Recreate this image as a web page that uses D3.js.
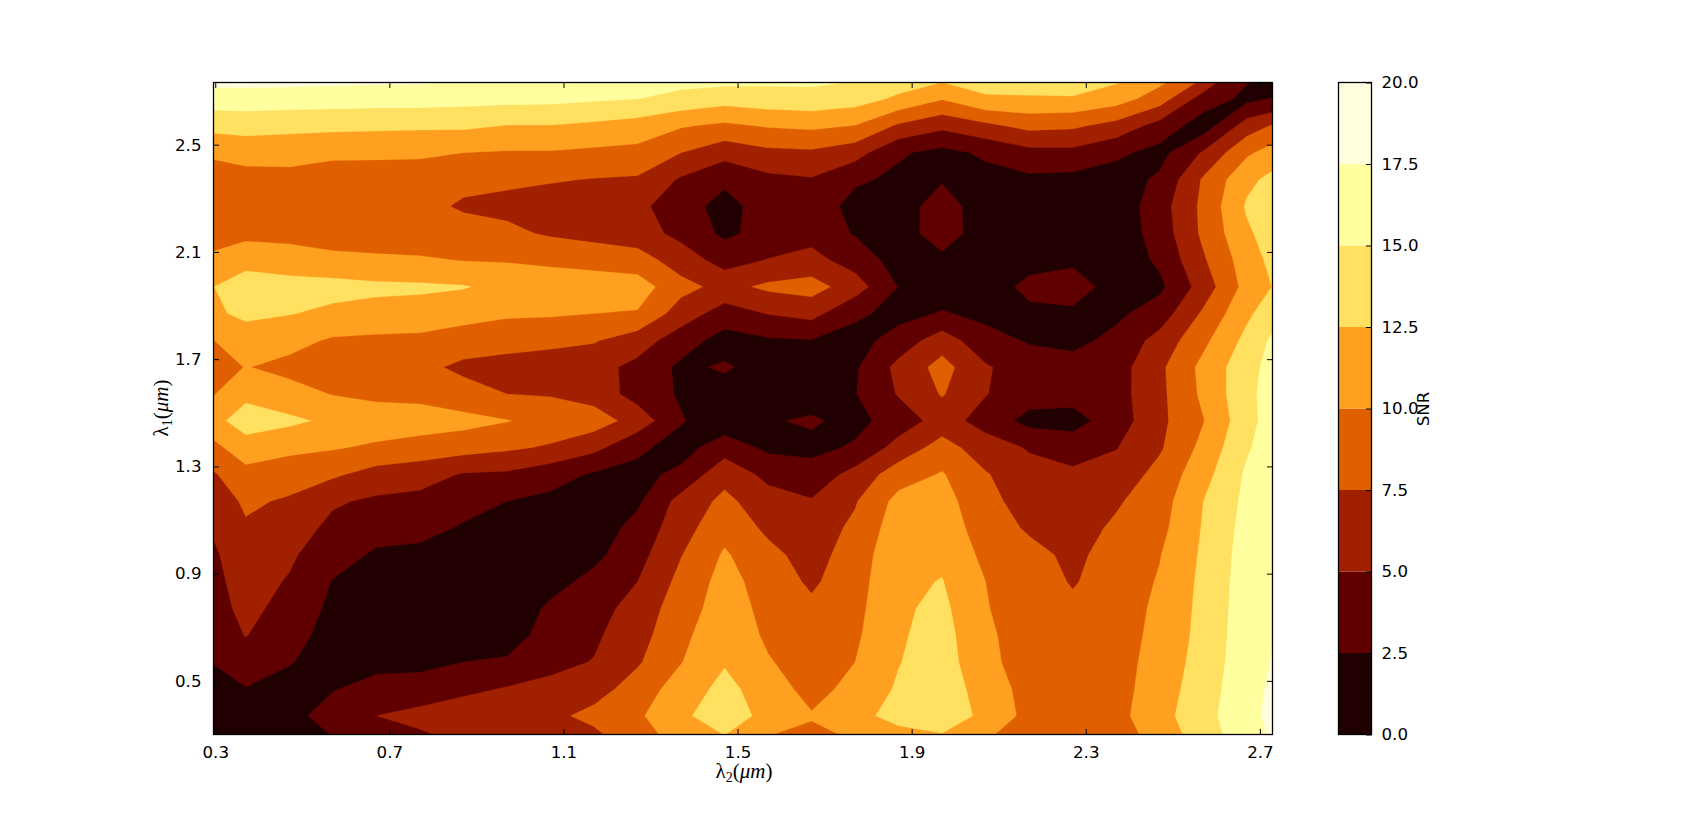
<!DOCTYPE html>
<html><head><meta charset="utf-8">
<script src="https://cdn.jsdelivr.net/npm/d3@7"></script>
<style>html,body{margin:0;padding:0;background:#fff;overflow:hidden}svg{display:block}text{fill:#000}</style>
</head><body><svg id="c" width="1707" height="815"></svg>
<script>
const levels=[0,2.5,5,7.5,10,12.5,15,17.5,20];
const bandColors=["#200000","#600000","#a02000","#e06000","#ffa020","#ffe060","#ffffa0","#ffffe0"];
const xTickValues=[0.3,0.7,1.1,1.5,1.9,2.3,2.7];
const yTickValues=[0.5,0.9,1.3,1.7,2.1,2.5];
const barTickValues=[0,2.5,5,7.5,10,12.5,15,17.5,20];
const lambda2Start=0.27, lambda1Top=2.77, gridStep=0.1;
// SNR: one list per lambda2 (0.27, 0.37, ...), each running from lambda1=2.77 down to 0.27
const snrByLambda2=[
[19.2,16.2,13.2,10.2,9.0,8.6,8.8,10.3,12.0,11.8,9.5,8.3,9.2,10.8,8.8,6.5,5.5,4.6,4.0,3.8,3.2,2.8,2.2,1.5,1.0,0.8],
[19.1,16.3,13.4,11,9.0,8.6,9.3,11.6,13.8,13.0,11.3,10.1,11.8,13.9,11.2,9.3,7.9,7.2,6.5,6,5.8,5.1,3.8,2.4,1.5,1],
[19,16.2,13.2,10.9,9.2,8.8,9.2,11.2,13.4,12.6,10.8,9.3,10.9,13,10.6,8.6,7.2,6.2,5.4,4.8,4.0,3.3,2.6,1.9,1.9,1],
[18.9,16.1,13.1,10.4,9.0,8.2,8.5,10.8,13.3,12.0,9.7,8.5,9.9,12.0,10.2,7.9,5.3,4.4,3.4,2.4,2.0,1.7,1.8,2.4,3.3,2.3],
[18.8,16,13,10.4,8.9,8.2,8.4,10.5,13,11.7,9.5,8.2,9.4,11.4,9.6,6.5,4.6,3.3,2.2,1.6,1.3,1.4,2.0,3.1,5,3.8],
[18.7,16,12.9,10.3,9,8.2,8.4,10.3,12.9,11.5,9.4,8.1,9.3,11.2,9.0,6.0,4.3,3.1,2.0,1.4,1.1,1.2,1.9,3.5,5.8,4.2],
[18.2,15.8,12.9,10,8.1,7.2,8.5,9.9,12.65,11,8.7,7,8.4,10.8,8.5,4.8,3.2,2.3,1.7,1.3,1.1,1.3,2.5,4.4,6.5,5.3],
[17.9,15.7,12.4,9.8,7.9,6.9,8,9.8,11.8,10.4,8.2,6.8,7.5,10.1,7.9,4.6,2.5,1.9,1.4,1.1,1,1.4,2.8,5.2,6.9,5.6],
[17.8,15.6,12.4,9.8,7.7,6.3,7.2,9.4,11.7,10.3,8,6.5,7.3,9.2,7.2,3.5,1.9,1.4,1.3,1.7,2.9,3.5,4.4,5.6,6.9,5.5],
[17.7,15.3,12,9.5,7.4,5.9,6.7,9,11.5,10,7.7,5.9,6.5,8.7,5.7,2.2,1.6,1.2,1.9,3.2,4,4.6,5.1,6.5,8.2,6.5],
[17.3,15,11.4,9.3,7.2,5.6,6.1,8.6,11.2,9.8,6.2,4.3,4,6.5,3,1.8,2.1,3.3,4.1,5,6,6.5,7.2,8.6,9.6,8.6],
[16.5,14.2,10.2,7.5,4.7,3.6,4.3,6.3,8.3,6.3,3.7,2,2.2,2.7,1.5,3.1,5.9,6.5,7.4,8.2,8.8,9.4,9.9,11.2,12,10.8],
[16.6,13.5,9.5,5.9,3,1.6,2,4,6.7,3.9,1.5,2.8,1.5,0.9,3.9,6.7,8.1,9.2,10.3,10.9,11.2,11.7,12.3,13.2,13.9,12],
[16.2,13.9,10.2,6.9,4.4,3.7,3.4,5.1,8,5.1,2.2,1.5,1.2,2.3,2,4.3,6.1,7,8.2,8.9,9.3,9.6,10.2,11.3,11.7,9.5],
[16.1,14.1,10.5,7.1,4.8,4.1,4.1,5.8,8.5,5.8,2.4,1.4,1.4,2.8,1.9,3.4,5.2,6.2,6.5,7.1,8,8.6,8.8,9.1,10.2,9.2],
[15.7,13.6,9.9,6,2.9,1.6,2.3,3.9,6.2,3,1.5,2.2,2.4,1.8,2.8,5.9,7.3,8,8.7,9,9.3,9.6,10,10.8,11.7,10],
[14.5,12,7.1,2.8,2,1.4,1.3,1.5,2.4,1.7,3.6,5.7,5.2,3.6,6,8.8,10.8,11.4,11.8,12,12.1,12.2,12.4,12.8,13.4,11],
[13.9,10.1,5.6,1.8,2.3,3.6,3.8,1.9,1.2,2.7,6.3,8.4,7.7,6.1,8.5,10.2,11,11.5,12,12.6,13.1,13.5,13.8,14.1,14.4,11.5],
[14.3,12.1,6.9,2.9,1.7,1.2,1.1,1.1,1.3,1.9,3.3,5.3,5.1,4,6.2,7.7,8.2,8.7,9.4,10,10.1,10.3,10.4,11.2,11.7,10],
[14.9,12.1,8.2,4.2,2,1.2,1,1.7,3.1,2,2.3,3.5,3.6,1.7,4.8,5.8,6.5,7.2,8.2,8.8,9.1,9.2,9.3,9.2,9.3,8.9],
[15.6,12.1,7.9,4.3,1.8,1,1.2,2.1,3.5,2.1,1.8,3.5,3.4,1.6,3.8,5.5,6,6.5,7,7.3,8,8.3,8.5,8.7,8.6,8],
[13.6,11.1,6.6,3,1.4,.9,.9,1.1,1.6,2,3.2,3.9,4,3.7,4.9,6,7.2,7.9,8.4,8.7,8.8,8.9,9,9,9.2,8.4],
[11.5,8.7,4,1.7,2.9,3.9,3.6,2.9,2,3.7,5.9,7,6.9,6.9,7.2,8.3,8.9,9.3,9.9,10.2,10.5,10.7,11,11.4,11.7,11],
[8.5,3.8,1.2,5.3,7.8,8.1,8,7.2,6.1,7.9,9.4,10.7,10.5,9.9,10.7,11.6,12.5,12.7,12.9,13.1,13.2,13.3,13.5,13.7,14,13.5],
[3,1.9,6.2,9.6,11.9,12.8,12.1,11.3,10.9,12,13.2,14.1,14.3,14.1,14.7,15.4,15.6,15.9,16.1,16.2,16.3,16.4,16.5,16.8,17.1,16.5],
[.8,3.2,8.8,12,14,14.5,14.7,14.4,13.7,15.3,17,17.1,17.4,17.6,17.5,17.3,17.5,17.6,17.6,17.7,17.8,18.1,18.35,18.5,18.3,18.4]
];

const plot={left:213.5,right:1272.5,top:82.5,bottom:734.5};
const bar={left:1338.5,right:1371.5};
const font='"DejaVu Sans"', tickSize=5.5, lw=1.3;
const svg=d3.select("#c");
const x=d3.scaleLinear().domain([0.296,2.729]).range([plot.left,plot.right]);
const y=d3.scaleLinear().domain([0.3,2.732]).range([plot.bottom,plot.top]);
const v=d3.scaleLinear().domain([0,20]).range([plot.bottom,plot.top]);

const nx=snrByLambda2.length, ny=snrByLambda2[0].length;
const values=[];
for(let j=0;j<ny;j++)for(let i=0;i<nx;i++)values.push(snrByLambda2[i][j]);

svg.append("clipPath").attr("id","pc").append("rect")
 .attr("x",plot.left).attr("y",plot.top).attr("width",plot.right-plot.left).attr("height",plot.bottom-plot.top);

const toPixels=d3.geoTransform({point(gx,gy){
  this.stream.point(x(lambda2Start+(gx-0.5)*gridStep),y(lambda1Top-(gy-0.5)*gridStep));
}});
const path=d3.geoPath(toPixels);
const contours=d3.contours().size([nx,ny]).smooth(true).thresholds(levels.slice(0,-1))(values);
const g=svg.append("g").attr("clip-path","url(#pc)");
g.append("rect").attr("x",plot.left).attr("y",plot.top).attr("width",plot.right-plot.left).attr("height",plot.bottom-plot.top).attr("fill",bandColors[0]);
g.selectAll("path").data(contours).join("path")
 .attr("d",path).attr("fill",(d,i)=>bandColors[i]).attr("stroke",(d,i)=>bandColors[i]).attr("stroke-width",0.3);

function styleAxis(sel,dy){
  sel.select(".domain").remove();
  sel.selectAll(".tick line").attr("stroke","#000").attr("stroke-width",1);
  sel.selectAll("text").attr("font-family",font).attr("font-size",16.67).attr("fill","#000");
}
const fmt=d3.format(".1f");
svg.append("g").attr("transform",`translate(0,${plot.bottom})`)
 .call(d3.axisBottom(x).tickValues(xTickValues).tickFormat(fmt).tickSizeInner(-tickSize).tickSizeOuter(0).tickPadding(12)).call(styleAxis);
svg.append("g").attr("transform",`translate(0,${plot.top})`)
 .call(d3.axisTop(x).tickValues(xTickValues).tickFormat("").tickSizeInner(-tickSize).tickSizeOuter(0)).call(styleAxis);
svg.append("g").attr("transform",`translate(${plot.left},0)`)
 .call(d3.axisLeft(y).tickValues(yTickValues).tickFormat(fmt).tickSizeInner(-tickSize).tickSizeOuter(0).tickPadding(12)).call(styleAxis);
svg.append("g").attr("transform",`translate(${plot.right},0)`)
 .call(d3.axisRight(y).tickValues(yTickValues).tickFormat("").tickSizeInner(-tickSize).tickSizeOuter(0)).call(styleAxis);
svg.append("rect").attr("x",plot.left).attr("y",plot.top).attr("width",plot.right-plot.left).attr("height",plot.bottom-plot.top)
 .attr("fill","none").attr("stroke","#000").attr("stroke-width",lw);

// colour bar
const bands=d3.pairs(levels);
svg.append("g").selectAll("rect").data(bands).join("rect")
 .attr("x",bar.left).attr("width",bar.right-bar.left)
 .attr("y",d=>v(d[1])).attr("height",d=>v(d[0])-v(d[1]))
 .attr("fill",(d,i)=>bandColors[i]);
svg.append("g").attr("transform",`translate(${bar.right},0)`)
 .call(d3.axisRight(v).tickValues(barTickValues).tickFormat(fmt).tickSizeInner(-tickSize).tickSizeOuter(0).tickPadding(10)).call(styleAxis);
svg.append("rect").attr("x",bar.left).attr("y",plot.top).attr("width",bar.right-bar.left).attr("height",plot.bottom-plot.top)
 .attr("fill","none").attr("stroke","#000").attr("stroke-width",lw);
svg.append("text").attr("transform","translate(1429,409) rotate(-90)").attr("text-anchor","middle")
 .attr("font-family",font).attr("font-size",16.67).text("SNR");

function mathLabel(sel,sub){
  const t=sel.attr("font-family",'"Liberation Serif"').attr("font-size",21).attr("text-anchor","middle");
  t.append("tspan").text("λ");
  t.append("tspan").attr("font-size",14).attr("dy",4).text(sub);
  t.append("tspan").attr("dy",-4).text("(");
  t.append("tspan").attr("font-style","italic").text("μm");
  t.append("tspan").text(")");
}
svg.append("text").attr("x",744).attr("y",778).call(mathLabel,"2");
svg.append("text").attr("transform","translate(168,408) rotate(-90)").call(mathLabel,"1");
</script></body></html>
